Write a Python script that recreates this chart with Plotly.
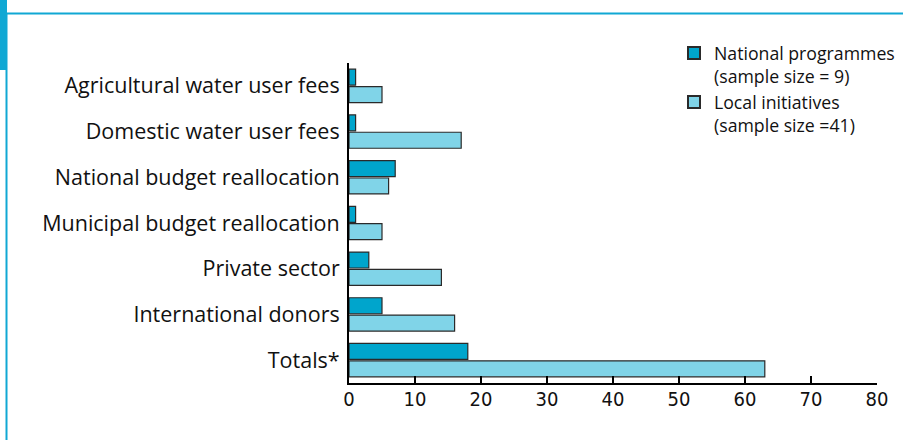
import plotly.graph_objects as go

categories = [
    "Agricultural water user fees",
    "Domestic water user fees",
    "National budget reallocation",
    "Municipal budget reallocation",
    "Private sector",
    "International donors",
    "Totals*",
]
national_programmes = [1, 1, 7, 1, 3, 5, 18]
local_initiatives = [5, 17, 6, 5, 14, 16, 63]
series_names = ["National programmes<br>(sample size = 9)",
                "Local initiatives<br>(sample size =41)"]
x_ticks = [0, 10, 20, 30, 40, 50, 60, 70, 80]

W, H = 903, 440
L, R, T, B = 349, 26, 63, 57
PW, PH = W - L - R, H - T - B

def px(x):
    return (x - L) / PW

def py(y):
    return (H - B - y) / PH

DARK = "#00A5CC"
LIGHT = "#80D4E8"
FRAME = "#10A8D4"
LABEL_FONT = "Open Sans, Noto Sans, sans-serif"

fig = go.Figure()
fig.add_trace(go.Bar(
    y=categories, x=national_programmes, orientation="h",
    name=series_names[0],
    marker=dict(color=DARK, line=dict(color="#2a2a2a", width=1.2)),
))
fig.add_trace(go.Bar(
    y=categories, x=local_initiatives, orientation="h",
    name=series_names[1],
    marker=dict(color=LIGHT, line=dict(color="#2a2a2a", width=1.2)),
))

fig.update_layout(
    width=W, height=H,
    margin=dict(l=L, r=R, t=T, b=B, pad=0, autoexpand=False),
    paper_bgcolor="white", plot_bgcolor="white",
    barmode="group", bargap=0.24, bargroupgap=0.08,
    showlegend=True,
    legend=dict(
        x=px(674), y=py(35), xanchor="left", yanchor="top",
        font=dict(family=LABEL_FONT, size=17.7, color="#111"),
        valign="top", bgcolor="rgba(0,0,0,0)", borderwidth=0,
        tracegroupgap=0, itemsizing="constant",
    ),
    xaxis=dict(
        range=[0, 80], tickvals=x_ticks, ticktext=[str(v) for v in x_ticks],
        showgrid=False, zeroline=False,
        showline=True, linecolor="black", linewidth=2,
        ticks="inside", ticklen=7, tickwidth=1.5, tickcolor="black",
        ticklabelstandoff=-3,
        tickfont=dict(family="Liberation Sans Narrow, DejaVu Sans Condensed, sans-serif",
                      size=20, color="#111"),
        fixedrange=True,
    ),
    yaxis=dict(
        type="category", categoryorder="array", categoryarray=categories,
        range=[len(categories) - 0.5, -0.5],
        showgrid=False, zeroline=False,
        showline=True, linecolor="black", linewidth=2,
        ticks="", ticklabelstandoff=3,
        tickfont=dict(family=LABEL_FONT, size=21.5, color="#111"),
        fixedrange=True,
    ),
    shapes=[
        dict(type="line", xref="paper", yref="paper",
             x0=px(6), x1=px(W + 5), y0=py(13.5), y1=py(13.5),
             line=dict(color=FRAME, width=2)),
        dict(type="line", xref="paper", yref="paper",
             x0=px(6.5), x1=px(6.5), y0=py(13), y1=py(H + 5),
             line=dict(color=FRAME, width=2)),
        dict(type="rect", xref="paper", yref="paper",
             x0=px(-2), x1=px(7), y0=py(-2), y1=py(70),
             fillcolor=FRAME, line=dict(width=0)),
    ],
)

fig.write_html(
    "out.html",
    config={"displayModeBar": False},
    post_script="document.body.style.margin='0';document.body.style.overflow='hidden';",
)
